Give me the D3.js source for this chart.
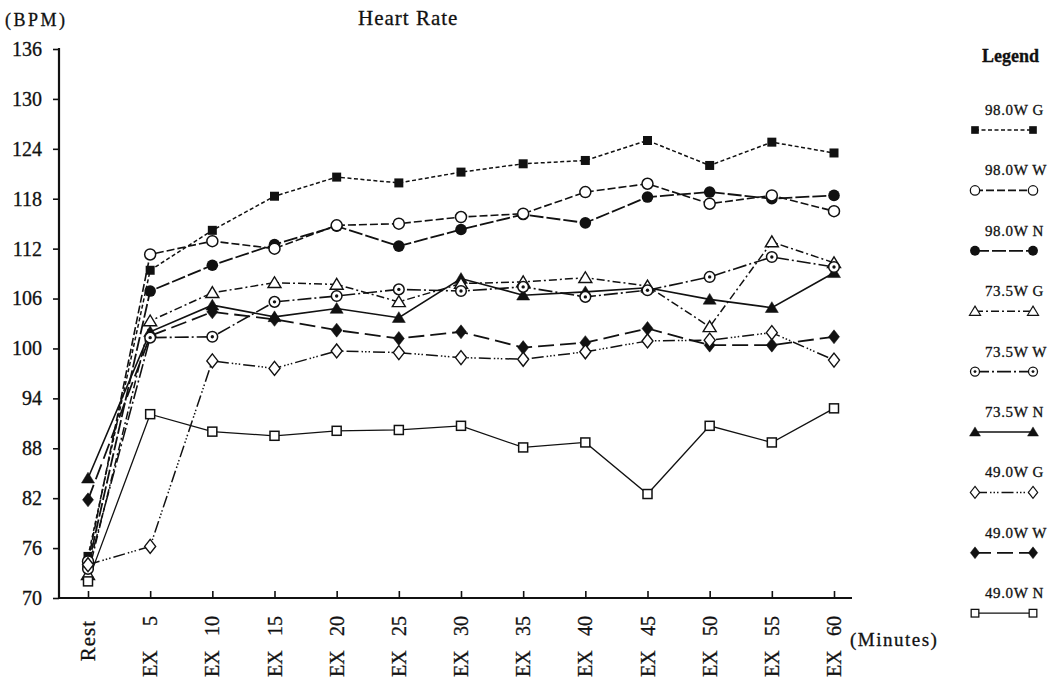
<!DOCTYPE html>
<html>
<head>
<meta charset="utf-8">
<script src="https://cdn.jsdelivr.net/npm/d3@7"></script>
<style>
  body { margin: 0; background: #fff; }
  text { font-family: "Liberation Serif", "DejaVu Serif", serif; fill: #111; stroke: #111; stroke-width: 0.3px; }
</style>
</head>
<body>
<div id="chart"></div>
<script>
// Define SVG area dimensions
var svgWidth = 1049;
var svgHeight = 678;

// Categories along the x axis
var categories = ["Rest", "EX 5", "EX 10", "EX 15", "EX 20", "EX 25", "EX 30",
  "EX 35", "EX 40", "EX 45", "EX 50", "EX 55", "EX 60"];

// Y axis tick values
var yTicks = [70, 76, 82, 88, 94, 100, 106, 112, 118, 124, 130, 136];

// Series names (legend order)
var seriesNames = ["98.0W G", "98.0W W", "98.0W N", "73.5W G", "73.5W W",
  "73.5W N", "49.0W G", "49.0W W", "49.0W N"];

// Heart rate values (BPM)
var hr98G = [75.0, 109.4, 114.2, 118.3, 120.6, 119.9, 121.2, 122.2, 122.6, 125.0, 122.0, 124.8, 123.5];
var hr98W = [74.4, 111.3, 112.9, 112.0, 114.8, 115.0, 115.8, 116.2, 118.8, 119.8, 117.4, 118.4, 116.5];
var hr98N = [73.8, 106.9, 110.0, 112.5, 114.7, 112.3, 114.3, 116.1, 115.1, 118.2, 118.8, 118.0, 118.4];
var hr735G = [72.8, 103.3, 106.7, 107.9, 107.7, 105.6, 107.8, 108.0, 108.5, 107.5, 102.6, 112.8, 110.3];
var hr735W = [73.5, 101.3, 101.4, 105.6, 106.3, 107.1, 106.9, 107.4, 106.2, 107.0, 108.6, 111.0, 109.8];
var hr735N = [84.4, 102.0, 105.2, 103.8, 104.8, 103.7, 108.4, 106.4, 106.8, 107.3, 105.9, 104.9, 109.1];
var hr49G = [74.0, 76.2, 98.5, 97.6, 99.7, 99.5, 98.9, 98.7, 99.6, 100.9, 101.0, 101.9, 98.6];
var hr49W = [81.8, 101.5, 104.4, 103.5, 102.2, 101.2, 102.0, 100.1, 100.7, 102.4, 100.4, 100.4, 101.4];
var hr49N = [72.0, 92.1, 90.0, 89.5, 90.1, 90.2, 90.7, 88.1, 88.7, 82.5, 90.7, 88.7, 92.8];

var seriesValues = [hr98G, hr98W, hr98N, hr735G, hr735W, hr735N, hr49G, hr49W, hr49N];

// Line dash + marker for each series (same order as seriesNames)
var seriesStyles = [
  {dash: "4,2.5", marker: "squareFilled", width: 1.5},
  {dash: "8,3", marker: "circleOpen", width: 1.6},
  {dash: "14,3", marker: "circleFilled", width: 1.8},
  {dash: "8,3,2,3", marker: "triangleOpen", width: 1.5},
  {dash: "14,3,2,3", marker: "circleDot", width: 1.6},
  {dash: null, marker: "triangleFilled", width: 1.6},
  {dash: "12,3,1.5,2,1.5,2,1.5,3", marker: "diamondOpen", width: 1.5},
  {dash: "16,6", marker: "diamondFilled", width: 1.8},
  {dash: null, marker: "squareOpen", width: 1.3}
];

// Build a table of series from the arrays above
var series = seriesNames.map(function(name, i) {
  return {
    name: name,
    style: seriesStyles[i],
    points: categories.map(function(c, j) { return {cat: c, val: seriesValues[i][j]}; })
  };
});

var svg = d3.select("#chart")
  .append("svg")
  .attr("width", svgWidth)
  .attr("height", svgHeight);

// Scales
var xScale = d3.scalePoint()
  .domain(categories)
  .range([88, 834]);

var yScale = d3.scaleLinear()
  .domain([70, 136])
  .range([598, 49]);

var axisLeftX = 59;
var axisBottomY = yScale(70);

// function drawing a marker of a given type at (cx, cy)
function drawMarker(g, type, cx, cy, k) {
  k = k || 1;
  var m = g.append("g").attr("transform", `translate(${cx}, ${cy}) scale(${k})`);
  if (type === "squareFilled") {
    m.append("rect").attr("x", -4.5).attr("y", -4.5).attr("width", 9).attr("height", 9)
      .attr("fill", "#111");
  } else if (type === "squareOpen") {
    m.append("rect").attr("x", -4.5).attr("y", -4.5).attr("width", 9).attr("height", 9)
      .attr("fill", "#fff").attr("stroke", "#111").attr("stroke-width", 1.5);
  } else if (type === "circleOpen") {
    m.append("circle").attr("r", 5.5).attr("fill", "#fff").attr("stroke", "#111").attr("stroke-width", 1.5);
  } else if (type === "circleFilled") {
    m.append("circle").attr("r", 5.8).attr("fill", "#111");
  } else if (type === "circleDot") {
    m.append("circle").attr("r", 5.3).attr("fill", "#fff").attr("stroke", "#111").attr("stroke-width", 1.5);
    m.append("circle").attr("r", 1.7).attr("fill", "#111");
  } else if (type === "triangleOpen" || type === "triangleFilled") {
    m.append("path").attr("d", "M0,-6L6.5,4.8L-6.5,4.8Z")
      .attr("fill", type === "triangleOpen" ? "#fff" : "#111")
      .attr("stroke", "#111").attr("stroke-width", type === "triangleOpen" ? 1.4 : 0.5);
  } else if (type === "diamondOpen" || type === "diamondFilled") {
    m.append("path").attr("d", "M0,-7L5.5,0L0,7L-5.5,0Z")
      .attr("fill", type === "diamondOpen" ? "#fff" : "#111")
      .attr("stroke", "#111").attr("stroke-width", type === "diamondOpen" ? 1.4 : 0.5);
  }
}

// Y axis
var yAxis = svg.append("g")
  .attr("transform", `translate(${axisLeftX}, 0)`)
  .call(d3.axisLeft(yScale).tickValues(yTicks).tickSize(6).tickPadding(11));

yAxis.select(".domain").remove();
yAxis.selectAll("line").attr("stroke", "#111").attr("stroke-width", 1.6);
yAxis.selectAll("text")
  .style("font-family", "Liberation Serif, serif")
  .style("font-size", "20px")
  .attr("fill", "#111");

// X axis (ticks point up into the plot)
var xAxis = svg.append("g")
  .attr("transform", `translate(0, ${axisBottomY})`)
  .call(d3.axisBottom(xScale).tickSize(-7).tickFormat(""));

xAxis.select(".domain").remove();
xAxis.selectAll("line").attr("stroke", "#111").attr("stroke-width", 1.6);

// Axis lines
svg.append("line")
  .attr("x1", axisLeftX).attr("x2", axisLeftX)
  .attr("y1", yScale(136) - 1).attr("y2", axisBottomY + 1)
  .attr("stroke", "#111").attr("stroke-width", 2.2);

svg.append("line")
  .attr("x1", axisLeftX).attr("x2", 852)
  .attr("y1", axisBottomY).attr("y2", axisBottomY)
  .attr("stroke", "#111").attr("stroke-width", 2.2);

// X category labels, rotated: number near the axis, "EX" at the bottom
var xLabels = svg.append("g").attr("class", "xlabels");
categories.forEach(function(c) {
  var x = xScale(c);
  var parts = c.split(" ");
  if (parts.length === 1) {
    xLabels.append("text")
      .attr("transform", `translate(${x}, ${axisBottomY + 22}) rotate(-90)`)
      .attr("text-anchor", "end")
      .attr("dy", "0.35em")
      .style("font-size", "21px")
      .style("letter-spacing", "1px")
      .text(c);
  } else {
    xLabels.append("text")
      .attr("transform", `translate(${x}, ${axisBottomY + 18}) rotate(-90)`)
      .attr("text-anchor", "end")
      .attr("dy", "0.35em")
      .style("font-size", "20px")
      .text(parts[1]);
    xLabels.append("text")
      .attr("transform", `translate(${x}, ${svgHeight - 1}) rotate(-90)`)
      .attr("text-anchor", "start")
      .attr("dy", "0.35em")
      .style("font-size", "20px")
      .text(parts[0]);
  }
});

// Titles
svg.append("text")
  .attr("x", 5).attr("y", 26)
  .style("font-size", "18px")
  .style("letter-spacing", "2.5px")
  .text("(BPM)");

svg.append("text")
  .attr("x", 358).attr("y", 25)
  .style("font-size", "21px")
  .style("letter-spacing", "1px")
  .text("Heart Rate");

svg.append("text")
  .attr("x", 850).attr("y", 646)
  .style("font-size", "19px")
  .style("letter-spacing", "1.5px")
  .text("(Minutes)");

// Lines
var line = d3.line()
  .x(d => xScale(d.cat))
  .y(d => yScale(d.val));

var lineGroup = svg.append("g").attr("class", "lines");
series.forEach(function(s) {
  lineGroup.append("path")
    .datum(s.points)
    .attr("d", line)
    .attr("fill", "none")
    .attr("stroke", "#111")
    .attr("stroke-width", s.style.width)
    .attr("stroke-dasharray", s.style.dash);
});

// Markers: filled ones first so the open ones sit on top
var markerGroup = svg.append("g").attr("class", "markers");
var drawOrder = series.slice().sort(function(a, b) {
  var fa = /Filled/.test(a.style.marker) ? 0 : 1;
  var fb = /Filled/.test(b.style.marker) ? 0 : 1;
  return fa - fb;
});
drawOrder.forEach(function(s) {
  s.points.forEach(function(p) {
    drawMarker(markerGroup, s.style.marker, xScale(p.cat), yScale(p.val));
  });
});

// Legend
var legend = svg.append("g").attr("class", "legend");

legend.append("text")
  .attr("x", 982).attr("y", 62)
  .style("font-size", "18px")
  .style("font-weight", "bold")
  .text("Legend");

series.forEach(function(s, i) {
  var ly = 115 + i * 60.4;
  legend.append("text")
    .attr("x", 985).attr("y", ly)
    .style("font-size", "15px")
    .style("letter-spacing", "0.6px")
    .text(s.name);
  legend.append("line")
    .attr("x1", 975).attr("x2", 1033)
    .attr("y1", ly + 15).attr("y2", ly + 15)
    .attr("stroke", "#111")
    .attr("stroke-width", s.style.width)
    .attr("stroke-dasharray", s.style.dash);
  drawMarker(legend, s.style.marker, 975, ly + 15, 0.85);
  drawMarker(legend, s.style.marker, 1033, ly + 15, 0.85);
});
</script>
</body>
</html>
